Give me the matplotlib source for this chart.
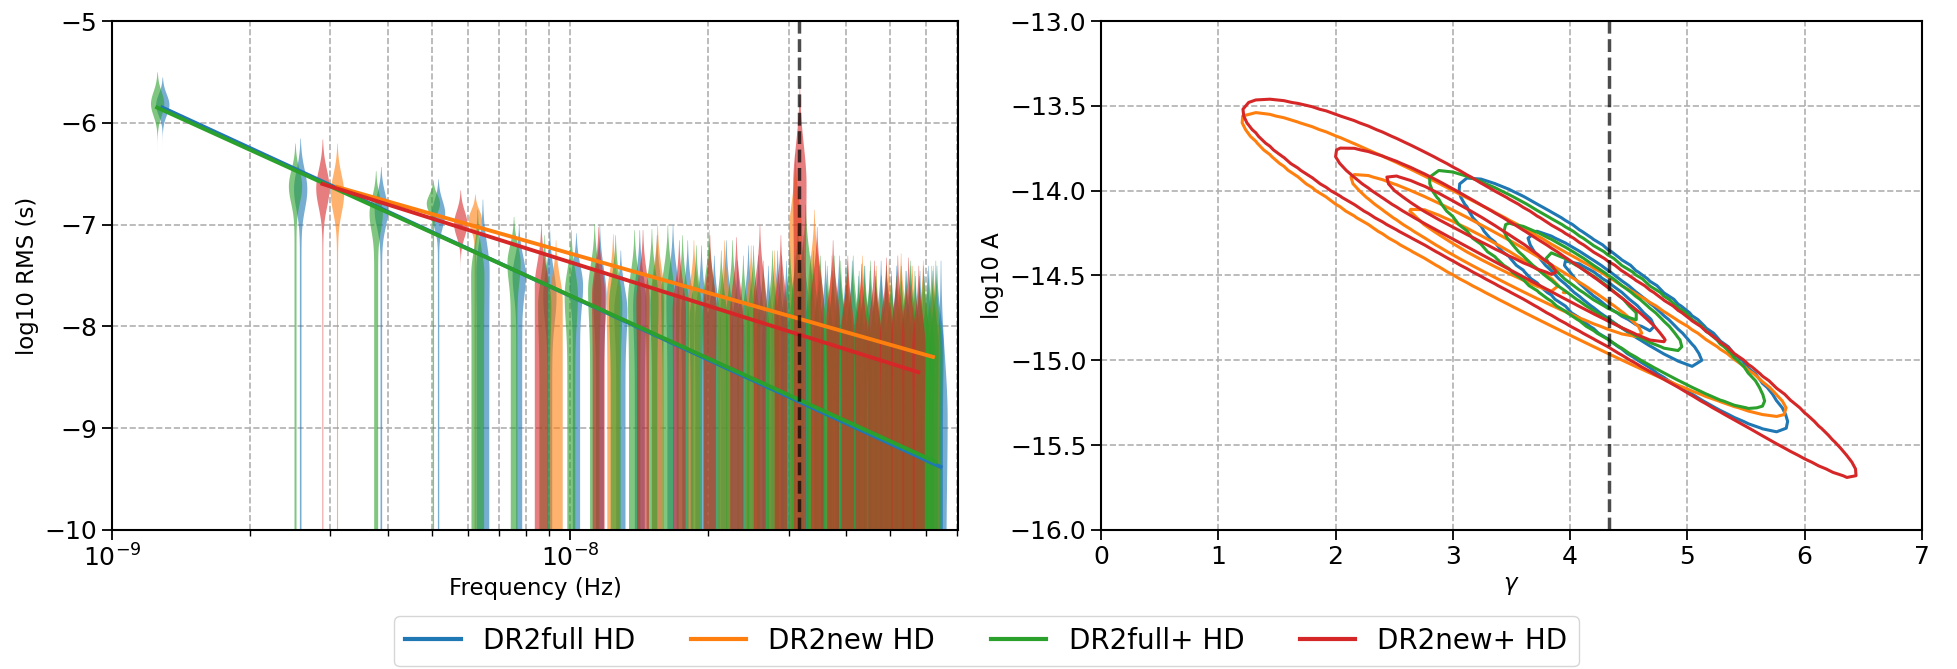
import numpy as np
import matplotlib.pyplot as plt
from matplotlib.lines import Line2D

labels = ['DR2full HD', 'DR2new HD', 'DR2full+ HD', 'DR2new+ HD']
colors = ['C0', 'C1', 'C2', 'C3']

# lowest frequency bin (1/Tspan) of each data set, Hz
f0 = [1.288e-9, 3.10e-9, 1.255e-9, 2.88e-9]
n_bins = [50, 20, 50, 20]

# free-spectrum violins: upper tip, widest point, width of the lower tail
top_full = [-5.55, -6.15, -6.43, -6.55, -6.75, -7.00, -7.05, -7.08, -7.00, -7.25,
            -7.05, -7.10, -7.00, -7.15, -7.20, -7.30, -7.15, -7.35, -7.20, -7.30,
            -7.40, -7.25, -7.35, -7.30, -7.10, -7.30, -7.40, -7.35, -7.45, -7.30,
            -7.40, -7.35, -7.50, -7.40, -7.45, -7.50, -7.35, -7.45, -7.50, -7.40,
            -7.55, -7.45, -7.40, -7.50, -7.45, -7.50, -7.40, -7.45, -7.40, -7.35]
mid_full = [-5.82, -6.65, -6.86, -6.89, -7.45, -7.50, -7.70, -7.60, -7.70, -7.85,
            -7.80, -7.80, -7.75, -7.90, -8.00, -8.00, -7.95, -8.10, -8.00, -8.05,
            -8.15, -8.05, -8.10, -8.10, -7.90, -8.10, -8.20, -8.15, -8.25, -8.10,
            -8.20, -8.15, -8.30, -8.20, -8.25, -8.30, -8.15, -8.25, -8.30, -8.20,
            -8.35, -8.25, -8.20, -8.30, -8.25, -8.30, -8.20, -8.25, -8.20, -8.90]
tail_full = [0.0, 0.12, 0.12, 0.10, 0.95, 0.45, 0.35, 0.55, 0.60, 0.70,
             0.75, 0.75, 0.85, 0.85, 0.90, 0.85, 0.90, 0.90, 0.95, 0.90,
             0.90, 0.95, 0.90, 0.95, 0.95, 0.90, 0.95, 0.90, 0.95, 0.95,
             0.90, 0.95, 0.95, 0.90, 0.95, 0.95, 0.90, 0.95, 0.95, 0.90,
             0.95, 0.95, 0.90, 0.95, 0.95, 0.90, 0.95, 0.95, 0.90, 0.80]

top_new = [-6.20, -6.70, -7.15, -7.09, -6.99, -7.15, -7.15, -7.20, -7.25, -6.30,
           -6.85, -7.30, -7.35, -7.30, -7.40, -7.35, -7.28, -7.40, -7.35, -7.40]
mid_new = [-6.69, -6.95, -7.75, -7.75, -7.70, -7.85, -7.90, -7.95, -8.00, -7.10,
           -7.65, -8.10, -8.10, -8.05, -8.20, -8.10, -8.05, -8.20, -8.15, -8.20]
tail_new = [0.08, 0.12, 1.0, 0.9, 0.9, 0.9, 0.95, 0.9, 0.95, 0.9,
            0.95, 0.9, 0.95, 0.9, 0.95, 0.9, 0.95, 0.9, 0.95, 0.9]

top_fullp = [-5.50, -6.20, -6.47, -6.56, -6.85, -6.92, -7.10, -7.05, -6.99, -7.10,
             -7.05, -7.04, -7.00, -7.10, -7.20, -7.05, -7.25, -7.15, -7.30, -7.20,
             -7.35, -7.25, -7.30, -7.20, -7.00, -6.80, -7.25, -7.30, -7.40, -7.30,
             -7.35, -7.40, -7.30, -7.45, -7.40, -7.35, -7.45, -7.50, -7.40, -7.45,
             -7.50, -7.40, -7.45, -7.35, -7.45, -7.50, -7.40, -7.45, -7.40, -7.35]
mid_fullp = [-5.81, -6.62, -6.89, -6.79, -7.50, -7.38, -7.80, -7.70, -7.65, -7.80,
             -7.75, -7.75, -7.70, -7.85, -7.95, -7.80, -8.00, -7.95, -8.05, -8.00,
             -8.10, -8.05, -8.10, -8.00, -7.80, -7.60, -8.05, -8.10, -8.20, -8.10,
             -8.15, -8.20, -8.10, -8.25, -8.20, -8.15, -8.25, -8.30, -8.20, -8.25,
             -8.30, -8.20, -8.25, -8.15, -8.25, -8.30, -8.20, -8.25, -8.20, -8.30]
tail_fullp = [0.0, 0.15, 0.30, 0.10, 0.95, 0.50, 0.80, 0.60, 0.70, 0.75,
              0.85, 0.80, 0.85, 0.90, 0.85, 0.90, 0.90, 0.95, 0.90, 0.95,
              0.90, 0.95, 0.90, 0.95, 0.95, 0.90, 0.95, 0.90, 0.95, 0.95,
              0.90, 0.95, 0.95, 0.90, 0.95, 0.95, 0.90, 0.95, 0.95, 0.90,
              0.95, 0.95, 0.90, 0.95, 0.95, 0.90, 0.95, 0.95, 0.90, 0.90]

top_newp = [-6.16, -6.66, -7.00, -7.02, -7.05, -7.15, -7.10, -7.12, -7.00, -7.10,
            -5.62, -7.02, -7.15, -7.30, -7.38, -7.35, -7.32, -7.30, -7.32, -7.40]
mid_newp = [-6.64, -6.99, -7.60, -7.70, -7.75, -7.85, -7.85, -7.90, -7.80, -7.90,
            -6.60, -7.80, -7.95, -8.10, -8.15, -8.10, -8.10, -8.10, -8.10, -8.20]
tail_newp = [0.06, 0.0, 1.0, 0.9, 0.9, 0.95, 0.9, 0.95, 0.9, 0.95,
             0.9, 0.95, 0.9, 0.95, 0.9, 0.95, 0.9, 0.95, 0.9, 0.9]

tops = [top_full, top_new, top_fullp, top_newp]
mids = [mid_full, mid_new, mid_fullp, mid_newp]
tails = [tail_full, tail_new, tail_fullp, tail_newp]

# best-fit power law, log10 RMS at first and last bin
pl_start = [-5.85, -6.63, -5.85, -6.60]
pl_end = [-9.38, -8.30, -9.33, -8.45]

# gamma / log10 A posteriors: mode, spread left/right of mode, slope, bend, width
post_g = [4.30, 3.20, 4.15, 2.90]
post_a = [-14.60, -14.32, -14.55, -14.10]
post_sdl = [0.48, 0.77, 0.52, 0.65]
post_sdr = [0.60, 1.02, 0.58, 1.37]
post_slope = [-0.50, -0.37, -0.46, -0.372]
post_bend = [0.0, 0.0, 0.0, -0.02]
post_w = [0.10, 0.095, 0.095, 0.105]

f_yr = 1 / 3.156e7
gamma_gw = 13 / 3


def draw_violins(ax, freqs, top, mid, tail, color, hw=0.0145):
    for f, t, m, tl in zip(freqs, top, mid, tail):
        s = (t - m) / 2.6
        y = np.linspace(-10.6, t, 300)
        core = np.exp(-0.5 * ((y - m) / s) ** 2)
        g = np.where(y > m, core, tl + (1 - tl) * core)
        ax.fill_betweenx(y, f * 10 ** (-hw * g), f * 10 ** (hw * g),
                         color=color, alpha=0.6, lw=0)


fig = plt.figure(figsize=(19.57, 6.69), dpi=100)
ax1 = fig.add_axes([0.0572, 0.2078, 0.4323, 0.7608])
ax2 = fig.add_axes([0.5626, 0.2078, 0.4195, 0.7608])

# left: free spectrum
for i in range(4):
    freqs = np.arange(1, n_bins[i] + 1) * f0[i]
    draw_violins(ax1, freqs, tops[i], mids[i], tails[i], colors[i])
for i in range(4):
    freqs = np.arange(1, n_bins[i] + 1) * f0[i]
    ax1.plot([freqs[0], freqs[-1]], [pl_start[i], pl_end[i]], color=colors[i], lw=2.8)
ax1.axvline(f_yr, color='k', ls='--', lw=2.5, alpha=0.7)
ax1.set_xscale('log')
ax1.set_xlim(1e-9, 7.03e-8)
ax1.set_ylim(-10, -5)
ax1.set_xlabel('Frequency (Hz)', fontsize=16.5)
ax1.set_ylabel('log10 RMS (s)', fontsize=16.5)
ax1.grid(True, which='both', axis='x', ls='--', color='#b0b0b0', lw=1.2)
ax1.grid(True, which='major', axis='y', ls='--', color='#b0b0b0', lw=1.2)

# right: gamma vs log10 A
gg = np.arange(0, 7.01, 0.12)
aa = np.arange(-16, -12.99, 0.04)
G, A = np.meshgrid(gg, aa)
for i in range(4):
    d = G - post_g[i]
    sd = np.where(d < 0, post_sdl[i], post_sdr[i])
    centre = post_a[i] + post_slope[i] * d + post_bend[i] * d ** 2
    z = np.exp(-0.5 * (d / sd) ** 2 - 0.5 * ((A - centre) / post_w[i]) ** 2)
    ax2.contour(G, A, z, levels=[0.034, 0.375, 0.755], colors=colors[i], linewidths=2.2)
ax2.axvline(gamma_gw, color='k', ls='--', lw=2.5, alpha=0.7)
ax2.set_xlim(0, 7)
ax2.set_ylim(-16, -13)
ax2.set_xticks(range(8))
ax2.set_yticks(np.arange(-16, -12.9, 0.5))
ax2.set_xlabel('$\\gamma$', fontsize=16.5)
ax2.set_ylabel('log10 A', fontsize=16.5)
ax2.grid(True, ls='--', color='#b0b0b0', lw=1.2)

for ax in (ax1, ax2):
    ax.set_axisbelow(True)
    ax.tick_params(labelsize=18, length=7, width=1.3)
    ax.tick_params(which='minor', length=4, width=1.0)
    for sp in ax.spines.values():
        sp.set_linewidth(1.5)

handles = [Line2D([], [], color=c, lw=3) for c in colors]
fig.legend(handles, labels, loc='lower center', bbox_to_anchor=(0.504, 0.004),
           ncol=4, fontsize=20, frameon=True, borderaxespad=0)

fig.savefig('out.png', dpi=100)
